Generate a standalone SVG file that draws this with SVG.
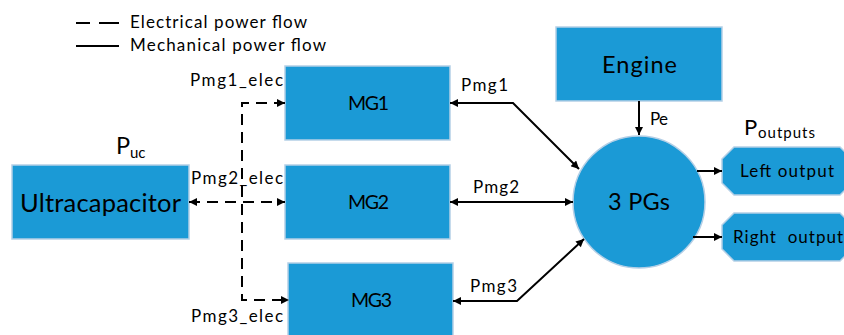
<svg xmlns="http://www.w3.org/2000/svg" width="844" height="335" viewBox="0 0 844 335">
  <style>
    .box { fill: #1b9ad6; stroke: #b4cfe6; stroke-width: 1.5; }
    .t { font-family: Lato, "Open Sans", "Liberation Sans", sans-serif; fill: #000; }
    .s { font-size: 17px; }
    .mg { font-size: 19.5px; }
    .big { font-size: 23.5px; }
    .mech { fill: none; stroke: #000; stroke-width: 2; }
    .elec { fill: none; stroke: #000; stroke-width: 2; stroke-dasharray: 11 7; }
  </style>
  <defs>
    <marker id="arr" viewBox="0 0 10 10" refX="10" refY="5" markerUnits="userSpaceOnUse" markerWidth="9" markerHeight="8" orient="auto-start-reverse">
      <path d="M0,0 L10,5 L0,10 z" fill="#000"/>
    </marker>
  </defs>

  <!-- legend -->
  <g id="legend">
    <line x1="76" y1="23" x2="90" y2="23" stroke="#000" stroke-width="2"/>
    <line x1="99" y1="23" x2="119" y2="23" stroke="#000" stroke-width="2"/>
    <text class="t s" x="130" y="28" textLength="177">Electrical power flow</text>
    <line x1="76" y1="46" x2="119" y2="46" stroke="#000" stroke-width="2"/>
    <text class="t s" x="130" y="51" textLength="196">Mechanical power flow</text>
  </g>

  <!-- nodes -->
  <g id="ultracapacitor">
    <rect class="box" x="12" y="165" width="177" height="74"/>
    <text class="t" x="20" y="212" font-size="25.5" textLength="161">Ultracapacitor</text>
    <text class="t" x="116" y="154" font-size="23.5">P</text>
    <text class="t" x="130" y="158" font-size="15">uc</text>
  </g>
  <g id="mg1">
    <rect class="box" x="285" y="66" width="165" height="74"/>
    <text class="t mg" x="348" y="110" textLength="41">MG1</text>
  </g>
  <g id="mg2">
    <rect class="box" x="285" y="165" width="165" height="74"/>
    <text class="t mg" x="348" y="209" textLength="41">MG2</text>
  </g>
  <g id="mg3">
    <rect class="box" x="288" y="263" width="165" height="80"/>
    <text class="t mg" x="351" y="307" textLength="41">MG3</text>
  </g>
  <g id="engine">
    <rect class="box" x="556" y="27" width="166" height="74"/>
    <text class="t big" x="602" y="73" textLength="75">Engine</text>
  </g>
  <g id="pgs">
    <circle class="box" cx="639" cy="202" r="66"/>
    <text class="t big" x="608" y="210" textLength="62">3 PGs</text>
  </g>
  <g id="left-output">
    <polygon class="box" points="734,147 840,147 852,159 852,183 840,195 734,195 722,183 722,159"/>
    <text class="t s" x="740" y="177" textLength="94">Left output</text>
  </g>
  <g id="right-output">
    <polygon class="box" points="734,213 840,213 852,225 852,249 840,261 734,261 722,249 722,225"/>
    <text class="t s" x="733" y="243" textLength="110" xml:space="preserve">Right  output</text>
  </g>
  <g id="outputs-label">
    <text class="t" x="744" y="135" font-size="22">P</text>
    <text class="t" x="758" y="138" font-size="15" textLength="57">outputs</text>
  </g>

  <!-- connectors -->
  <g id="connectors">
    <!-- electrical (dashed) -->
    <path class="elec" d="M285,103 H242 V300 H289" marker-start="url(#arr)" marker-end="url(#arr)"/>
    <path class="elec" d="M189,202 H285" marker-start="url(#arr)" marker-end="url(#arr)"/>
    <!-- mechanical (solid) -->
    <path class="mech" d="M450,103 H513 L579,169" marker-start="url(#arr)" marker-end="url(#arr)"/>
    <path class="mech" d="M450,202 H573" marker-start="url(#arr)" marker-end="url(#arr)"/>
    <path class="mech" d="M453,301 H517 L584,239" marker-start="url(#arr)" marker-end="url(#arr)"/>
    <path class="mech" d="M639,101 V135" marker-end="url(#arr)"/>
    <path class="mech" d="M697,171 H722" marker-end="url(#arr)"/>
    <path class="mech" d="M693,237 H722" marker-end="url(#arr)"/>
  </g>

  <!-- connector labels -->
  <g id="connector-labels">
    <text class="t s" x="190" y="86" textLength="93">Pmg1_elec</text>
    <text class="t s" x="191" y="184" textLength="92">Pmg2_elec</text>
    <text class="t s" x="191" y="322" textLength="92">Pmg3_elec</text>
    <text class="t s" x="461" y="91" textLength="47">Pmg1</text>
    <text class="t s" x="473" y="193" textLength="46">Pmg2</text>
    <text class="t s" x="470" y="292" textLength="47">Pmg3</text>
    <text class="t s" x="650" y="125" textLength="18">Pe</text>
  </g>
</svg>
